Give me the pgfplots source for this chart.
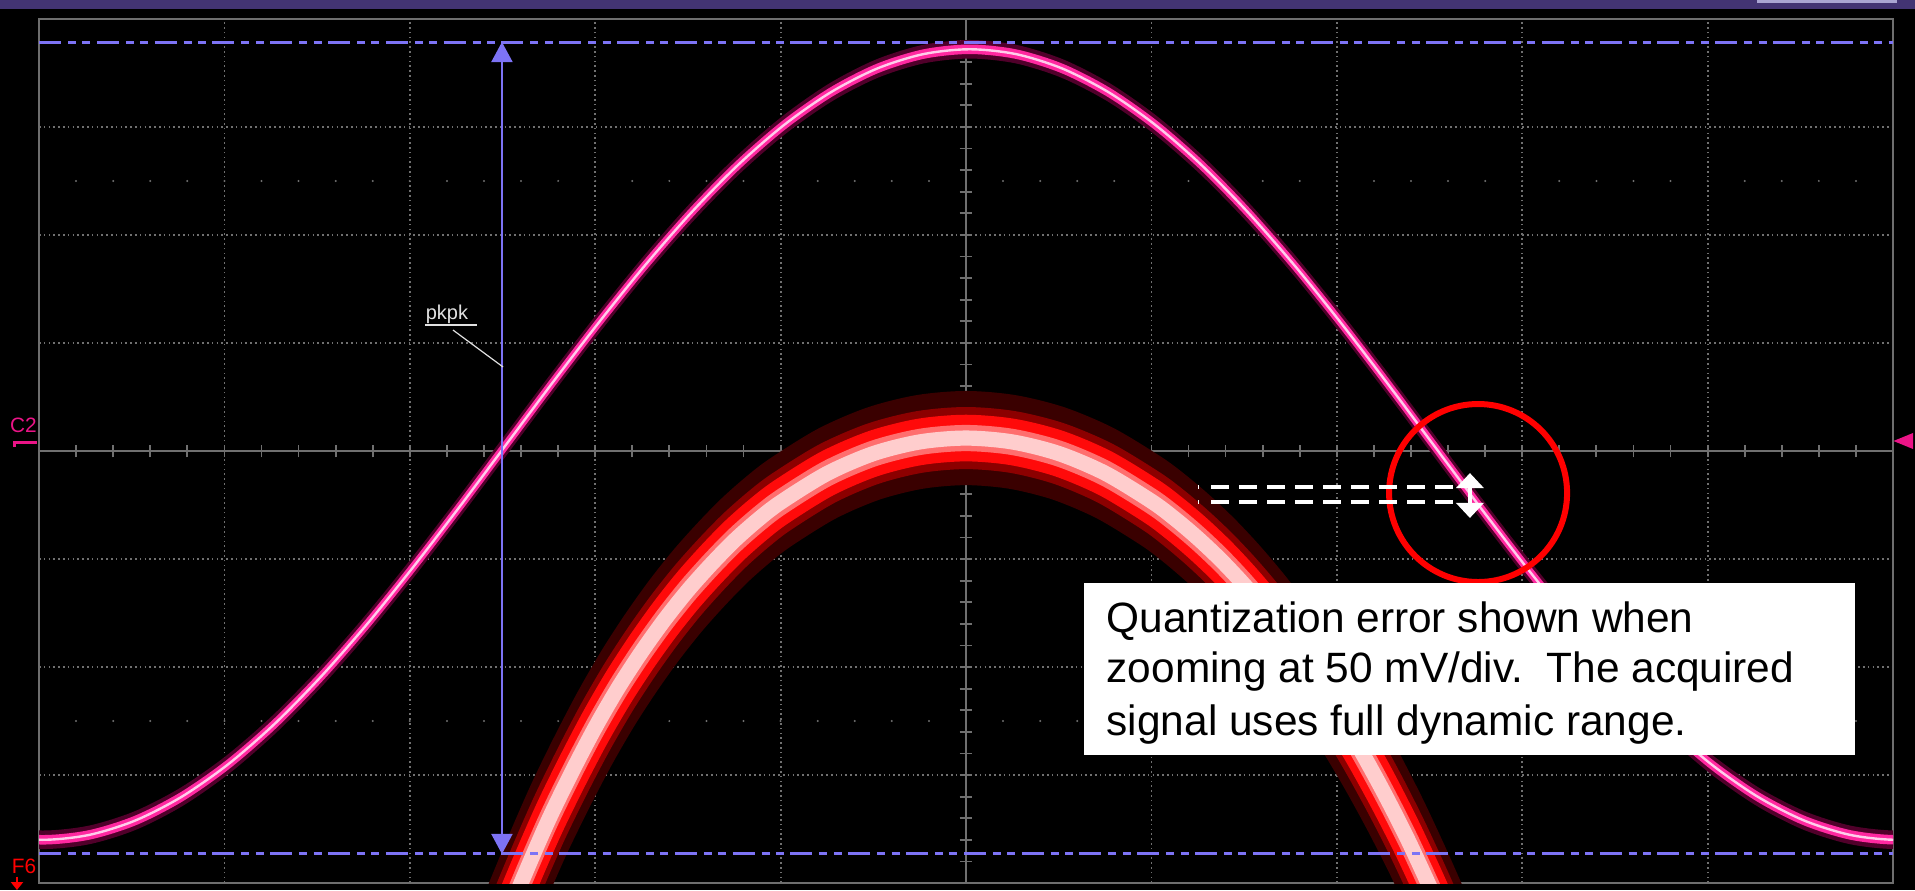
\documentclass[border=0pt]{standalone}
\usepackage{pgfplots}
\pgfplotsset{compat=1.18}
\usepackage{pgfplotstable}
\usepackage{fontspec}
\setmainfont{Liberation Sans}
\usetikzlibrary{arrows.meta}

\definecolor{gridgray}{RGB}{112,112,112}
\definecolor{framegray}{RGB}{110,110,110}
\definecolor{curblue}{RGB}{125,115,245}
\definecolor{barpurple}{RGB}{67,52,115}
\definecolor{btnlav}{RGB}{170,165,210}
\definecolor{pkgray}{RGB}{225,225,225}
\definecolor{cmag}{RGB}{235,20,135}
\definecolor{pinkhalo}{RGB}{80,0,42}
\definecolor{pinkmid}{RGB}{255,40,160}
\definecolor{pinkcore}{RGB}{255,205,235}
\definecolor{reddark}{RGB}{58,0,0}
\definecolor{redmid}{RGB}{140,0,0}
\definecolor{redbright}{RGB}{255,10,10}
\definecolor{redsoft}{RGB}{255,110,110}
\definecolor{redcore}{RGB}{255,205,205}

\pgfplotstableread{
x y
-0.23 -3.555
0.02 -3.600
0.27 -3.555
0.52 -3.421
0.77 -3.201
1.02 -2.901
1.27 -2.528
1.52 -2.091
1.77 -1.602
2.02 -1.071
2.27 -0.513
2.52 0.060
2.77 0.633
3.02 1.191
3.27 1.722
3.52 2.211
3.77 2.648
4.02 3.021
4.27 3.321
4.52 3.541
4.77 3.675
5.02 3.720
5.27 3.675
5.52 3.541
5.77 3.321
6.02 3.021
6.27 2.648
6.52 2.211
6.77 1.722
7.02 1.191
7.27 0.633
7.52 0.060
7.77 -0.513
8.02 -1.071
8.27 -1.602
8.52 -2.091
8.77 -2.528
9.02 -2.901
9.27 -3.201
9.52 -3.421
9.77 -3.555
10.02 -3.600
10.27 -3.555
}\pinktrace

\pgfplotstableread{
x y
2.40 -4.88
2.50 -4.42
2.625 -3.90
2.75 -3.41
2.875 -2.97
3.00 -2.56
3.125 -2.19
3.25 -1.86
3.375 -1.56
3.50 -1.29
3.625 -1.05
3.75 -0.83
3.875 -0.64
4.00 -0.475
4.25 -0.209
4.50 -0.024
4.75 0.084
5.00 0.120
5.25 0.084
5.50 -0.023
5.75 -0.205
6.00 -0.465
6.125 -0.625
6.25 -0.807
6.375 -1.01
6.50 -1.238
6.625 -1.49
6.75 -1.766
6.875 -2.07
7.00 -2.40
7.125 -2.76
7.25 -3.15
7.375 -3.57
7.50 -4.03
7.625 -4.52
7.75 -5.05
}\redtrace

\begin{document}
\begin{tikzpicture}
% screen background and title bar
\fill[black] (-9.75pt,-1.75pt) rectangle (469pt,220.75pt);
\fill[barpurple] (-9.75pt,218.4pt) rectangle (469pt,220.75pt);
\fill[btnlav] (429.5pt,219.9pt) rectangle (464.5pt,220.75pt);
% centre cross with minor ticks
\draw[gridgray, line width=0.5pt] (0,108pt) -- (463.5pt,108pt);
\foreach \i in {1,...,49} \draw[gridgray, line width=0.45pt] (\i*9.27pt,106.4pt) -- (\i*9.27pt,109.6pt);
\draw[gridgray, line width=0.5pt] (231.75pt,0) -- (231.75pt,216pt);
\foreach \i in {1,...,39} \draw[gridgray, line width=0.45pt] (230.15pt,\i*5.4pt) -- (233.35pt,\i*5.4pt);
% rows of dots at +-2.5 div
\foreach \i in {1,...,49} {
  \fill[gridgray] (\i*9.27pt,40.5pt) circle[radius=0.28pt];
  \fill[gridgray] (\i*9.27pt,175.5pt) circle[radius=0.28pt];
}
\begin{axis}[
  at={(0,0)}, anchor=south west,
  scale only axis, width=463.5pt, height=216pt,
  xmin=0, xmax=10, ymin=-4, ymax=4,
  xtick={0,...,10}, ytick={-4,...,4},
  xticklabels={}, yticklabels={},
  tick style={draw=none},
  grid=major,
  major grid style={gridgray, line width=0.45pt, dash pattern=on 0.4pt off 0.8pt},
  axis line style={framegray, line width=0.6pt},
  clip mode=individual,
]
% zoomed (quantized) trace, red glow
\pgfplotsinvokeforeach{-0.26,-0.13,0,0.13,0.26}{
  \addplot[reddark, line width=9.5pt, smooth, line join=round] table[x=x, y expr=\thisrow{y}+(#1)] {\redtrace};
}
\pgfplotsinvokeforeach{-0.13,0,0.13}{
  \addplot[redmid, line width=8.5pt, smooth, line join=round] table[x=x, y expr=\thisrow{y}+(#1)] {\redtrace};
}
\pgfplotsinvokeforeach{-0.09,0,0.09}{
  \addplot[redbright, line width=6.8pt, smooth, line join=round] table[x=x, y expr=\thisrow{y}+(#1)] {\redtrace};
}
\pgfplotsinvokeforeach{-0.04,0.04}{
  \addplot[redsoft, line width=4.4pt, smooth, line join=round] table[x=x, y expr=\thisrow{y}+(#1)] {\redtrace};
}
\addplot[redcore, line width=3.8pt, smooth, line join=round] table[x=x, y=y] {\redtrace};
% acquired trace, pink glow
\pgfplotsinvokeforeach{-0.06,-0.03,0,0.03,0.06}{
  \addplot[pinkhalo, line width=1.4pt, smooth] table[x=x, y expr=\thisrow{y}+(#1)] {\pinktrace};
}
\pgfplotsinvokeforeach{-0.02,0.02}{
  \addplot[pinkmid, line width=1.3pt, smooth] table[x=x, y expr=\thisrow{y}+(#1)] {\pinktrace};
}
\addplot[pinkcore, line width=0.6pt, smooth] table[x=x, y=y] {\pinktrace};
% horizontal cursors
\draw[curblue, line width=0.75pt, dash pattern=on 5.5pt off 1.75pt on 2pt off 1.6pt on 2pt off 1.6pt] (axis cs:0,3.787) -- (axis cs:10,3.787);
\draw[curblue, line width=0.75pt, dash pattern=on 5.5pt off 1.75pt on 2pt off 1.6pt on 2pt off 1.6pt] (axis cs:0,-3.731) -- (axis cs:10,-3.731);
% pkpk arrow
\draw[curblue, line width=0.5pt, {Triangle[width=5.25pt,length=5pt]}-{Triangle[width=5.25pt,length=5pt]}] (axis cs:2.497,-3.731) -- (axis cs:2.497,3.787);
\node[anchor=base west, inner sep=0pt, text=pkgray, font=\fontsize{5}{6}\selectfont] at (axis cs:2.082,1.222) {pkpk};
\draw[pkgray, line width=0.35pt] (axis cs:2.082,1.167) -- (axis cs:2.363,1.167);
\draw[pkgray, line width=0.3pt] (axis cs:2.233,1.120) -- (axis cs:2.503,0.778);
% annotation
\draw[red, line width=1.5pt] (axis cs:7.762,-0.389) circle[radius=22.25pt];
\draw[white, line width=1pt, dash pattern=on 4.5pt off 2.5pt] (axis cs:6.322,-0.333) -- (axis cs:7.638,-0.333);
\draw[white, line width=1pt, dash pattern=on 4.5pt off 2.5pt] (axis cs:6.322,-0.472) -- (axis cs:7.638,-0.472);
\draw[white, line width=1pt] (axis cs:6.251,-0.333) -- (axis cs:6.256,-0.333);
\draw[white, line width=1pt] (axis cs:6.251,-0.472) -- (axis cs:6.256,-0.472);
\draw[white, line width=1pt, {Triangle[width=6.75pt,length=3.75pt]}-{Triangle[width=6.75pt,length=3.75pt]}] (axis cs:7.718,-0.620) -- (axis cs:7.718,-0.204);
\fill[white] (axis cs:5.639,-1.219) rectangle (axis cs:9.795,-2.812);
\node[anchor=base west, inner sep=0pt, font=\fontsize{10.6}{12.75}\selectfont] at (axis cs:5.755,-1.685) {Quantization error shown when};
\node[anchor=base west, inner sep=0pt, font=\fontsize{10.6}{12.75}\selectfont] at (axis cs:5.755,-2.148) {zooming at 50 mV/div.\ \ The acquired};
\node[anchor=base west, inner sep=0pt, font=\fontsize{10.6}{12.75}\selectfont] at (axis cs:5.755,-2.630) {signal uses full dynamic range.};
\end{axis}
% channel markers outside the grid
\node[text=cmag, inner sep=0pt, font=\fontsize{5.2}{6}\selectfont] at (-3.9pt,114.4pt) {C2};
\fill[cmag] (-6.5pt,109.75pt) rectangle (-0.5pt,110.6pt);
\fill[cmag] (-6.5pt,109pt) rectangle (-5.8pt,109.8pt);
\fill[cmag] (463.6pt,110.5pt) -- (468.5pt,112.5pt) -- (468.5pt,108.5pt) -- cycle;
\node[text=red, inner sep=0pt, font=\fontsize{5.2}{6}\selectfont] at (-3.75pt,4.1pt) {F6};
\draw[red, line width=0.5pt, -{Triangle[width=3pt,length=2pt]}] (-5.5pt,1.6pt) -- (-5.5pt,-1.75pt);
\pgfresetboundingbox
\useasboundingbox (-9.75pt,-1.75pt) rectangle (469pt,220.75pt);
\end{tikzpicture}
\end{document}
